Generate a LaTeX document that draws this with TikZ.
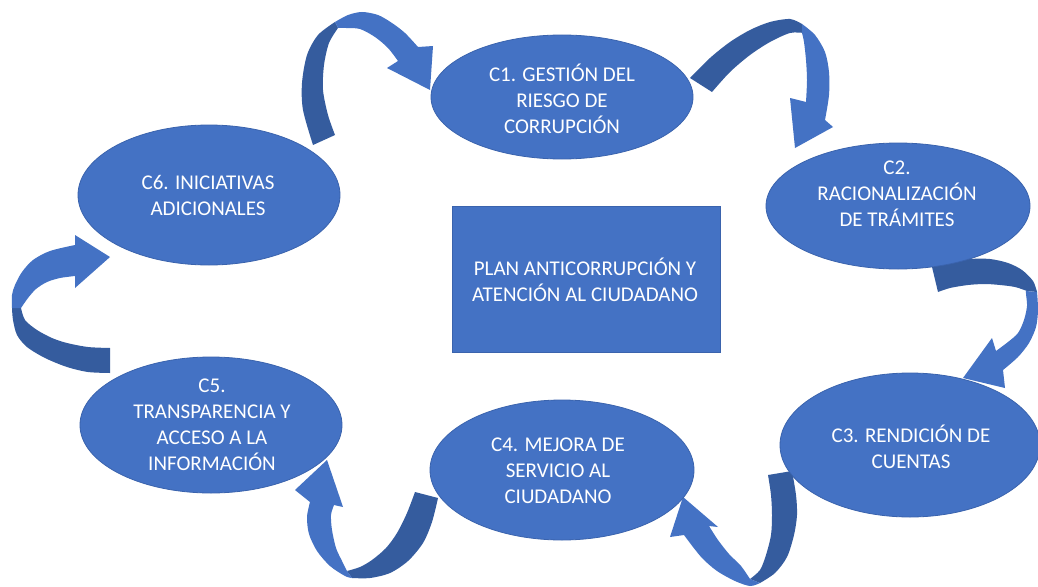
\documentclass[tikz,border=0pt]{standalone}
\usepackage{fontspec}
\setmainfont{Carlito}
\usetikzlibrary{shapes.geometric}
\definecolor{lb}{HTML}{4472C4}
\definecolor{db}{HTML}{355C9E}
\definecolor{eb}{HTML}{3A63AD}
\tikzset{
  ell/.style={ellipse, fill=lb, draw=eb, line width=0.8pt, inner sep=0pt},
  txt/.style={text=white, align=center, font=\fontsize{21}{26}\selectfont, inner sep=0pt},
  darkpart/.style={fill=db},
  lightpart/.style={fill=lb},
}
\begin{document}
\begin{tikzpicture}[x=1pt,y=-1pt]
\useasboundingbox (0,0) rectangle (1038,586);
\fill[white] (0,0) rectangle (1038,586);

% ---- curved arrows (drawn behind the ellipses) ----
% A1: C6 -> C1
\fill[darkpart] (313,145) -- plot[smooth] coordinates {(313,145) (303,110) (302,83) (307,55) (318,35) (335,22)}
  -- plot[smooth] coordinates {(338,28) (329,43) (324,65) (323,90) (328,115) (335,135)} -- cycle;
\fill[lightpart] (335,22) -- plot[smooth] coordinates {(335,22) (348,15) (362,12) (378,15) (392,23) (405,33) (418,47)}
  -- (433,46) -- (430,90) -- (387,68) -- (398,61)
  -- plot[smooth] coordinates {(398,61) (388,48) (375,37) (360,29) (346,28) (338,28)} -- cycle;
% A2: C1 -> C2
\fill[darkpart] (690,78) -- plot[smooth] coordinates {(690,78) (710,58) (730,42) (750,30) (770,22) (790,19) (802,24)}
  -- plot[smooth] coordinates {(804,33) (790,33) (770,42) (750,55) (730,72) (712,92)} -- cycle;
\fill[lightpart] (802,24) -- plot[smooth] coordinates {(802,24) (815,35) (825,52) (829,72) (829,95) (825,120)}
  -- (833,127) -- (795,148) -- (790,98) -- (806,102)
  -- plot[smooth] coordinates {(806,102) (807,80) (806,60) (804,42) (802,33)} -- cycle;
% A3: C2 -> C3
\fill[darkpart] (932,267) -- plot[smooth] coordinates {(932,267) (950,262) (970,259) (990,259) (1008,263) (1022,270) (1033,281) (1037,292)}
  -- plot[smooth] coordinates {(1027,291) (1015,287) (1000,285) (985,284) (968,285) (950,288) (938,292)} -- cycle;
\fill[lightpart] (1037,292) -- plot[smooth] coordinates {(1037,292) (1038,310) (1036,327) (1029,343) (1018,357) (1003,370)}
  -- (1005,388) -- (963,378) -- (992,338) -- (996,351)
  -- plot[smooth] coordinates {(996,351) (1008,342) (1018,333) (1024,320) (1027,306) (1026,294) (1026,291)} -- cycle;
% A4: C3 -> C4
\fill[darkpart] (792,471) -- plot[smooth] coordinates {(792,471) (796,495) (797,515) (794,535) (787,557) (775,573) (760,583)}
  -- plot[smooth] coordinates {(750,579) (760,570) (766,555) (771,535) (772,515) (771,495) (768,475)} -- cycle;
\fill[lightpart] (760,583) -- plot[smooth] coordinates {(760,583) (750,586) (735,581) (717,571) (703,559) (693,547) (684,535)}
  -- (670,537) -- (683,497) -- (718,527) -- (709,526)
  -- plot[smooth] coordinates {(709,526) (718,540) (729,554) (741,566) (750,579)} -- cycle;
% A5: C4 -> C5
\fill[darkpart] (438,498) -- plot[smooth] coordinates {(438,498) (432,522) (423,543) (408,561) (390,573) (370,578) (352,578)}
  -- plot[smooth] coordinates {(347,571) (360,567) (372,560) (386,548) (397,533) (407,513) (415,492)} -- cycle;
\fill[lightpart] (352,578) -- plot[smooth] coordinates {(352,578) (345,576) (330,566) (317,551) (309,534) (307,517) (310,502)}
  -- (295,490) -- (327,460) -- (343,507) -- (334,505)
  -- plot[smooth] coordinates {(334,505) (331,515) (332,530) (336,548) (342,561) (347,571)} -- cycle;
% A6: C5 -> C6
\fill[darkpart] (110,373) -- plot[smooth] coordinates {(110,373) (88,372) (67,367) (45,358) (27,347) (17,335) (13,320) (12,308)}
  -- plot[smooth] coordinates {(21,308) (25,320) (37,330) (52,338) (67,343) (88,347) (110,348)} -- cycle;
\fill[lightpart] (12,308) -- plot[smooth] coordinates {(12,308) (12,295) (15,285) (22,272) (33,260) (50,251) (75,245)}
  -- (75,235) -- (110,257) -- (75,288) -- (75,276)
  -- plot[smooth] coordinates {(75,276) (60,278) (47,282) (36,289) (28,298) (21,308)} -- cycle;

% ---- ellipses ----
\node[ell, minimum width=262pt, minimum height=124pt] (c1) at (562,97) {};
\node[ell, minimum width=264pt, minimum height=126pt] (c2) at (898,206) {};
\node[ell, minimum width=260pt, minimum height=144pt] (c3) at (910,445) {};
\node[ell, minimum width=264pt, minimum height=140pt] (c4) at (562,470) {};
\node[ell, minimum width=262pt, minimum height=136pt] (c5) at (211,425) {};
\node[ell, minimum width=262pt, minimum height=140pt] (c6) at (209,195) {};
\node[rectangle, fill=lb, draw=eb, line width=0.8pt, minimum width=268pt, minimum height=146pt] (plan) at (586,279) {};

% ---- texts ----
\node[txt] (t1) at (562,99) {C1. GESTIÓN DEL\\RIESGO DE\\CORRUPCIÓN};
\node[txt] (t2) at (897,194) {C2.\\RACIONALIZACIÓN\\DE TRÁMITES};
\node[txt] (t3) at (911,447) {C3. RENDICIÓN DE\\CUENTAS};
\node[txt] (t4) at (558,471) {C4. MEJORA DE\\SERVICIO AL\\CIUDADANO};
\node[txt] (t5) at (212,425) {C5.\\TRANSPARENCIA Y\\ACCESO A LA\\INFORMACIÓN};
\node[txt] (t6) at (208,195) {C6. INICIATIVAS\\ADICIONALES};
\node[txt] (tp) at (585,280) {PLAN ANTICORRUPCIÓN Y\\ATENCIÓN AL CIUDADANO};
\end{tikzpicture}
\end{document}
